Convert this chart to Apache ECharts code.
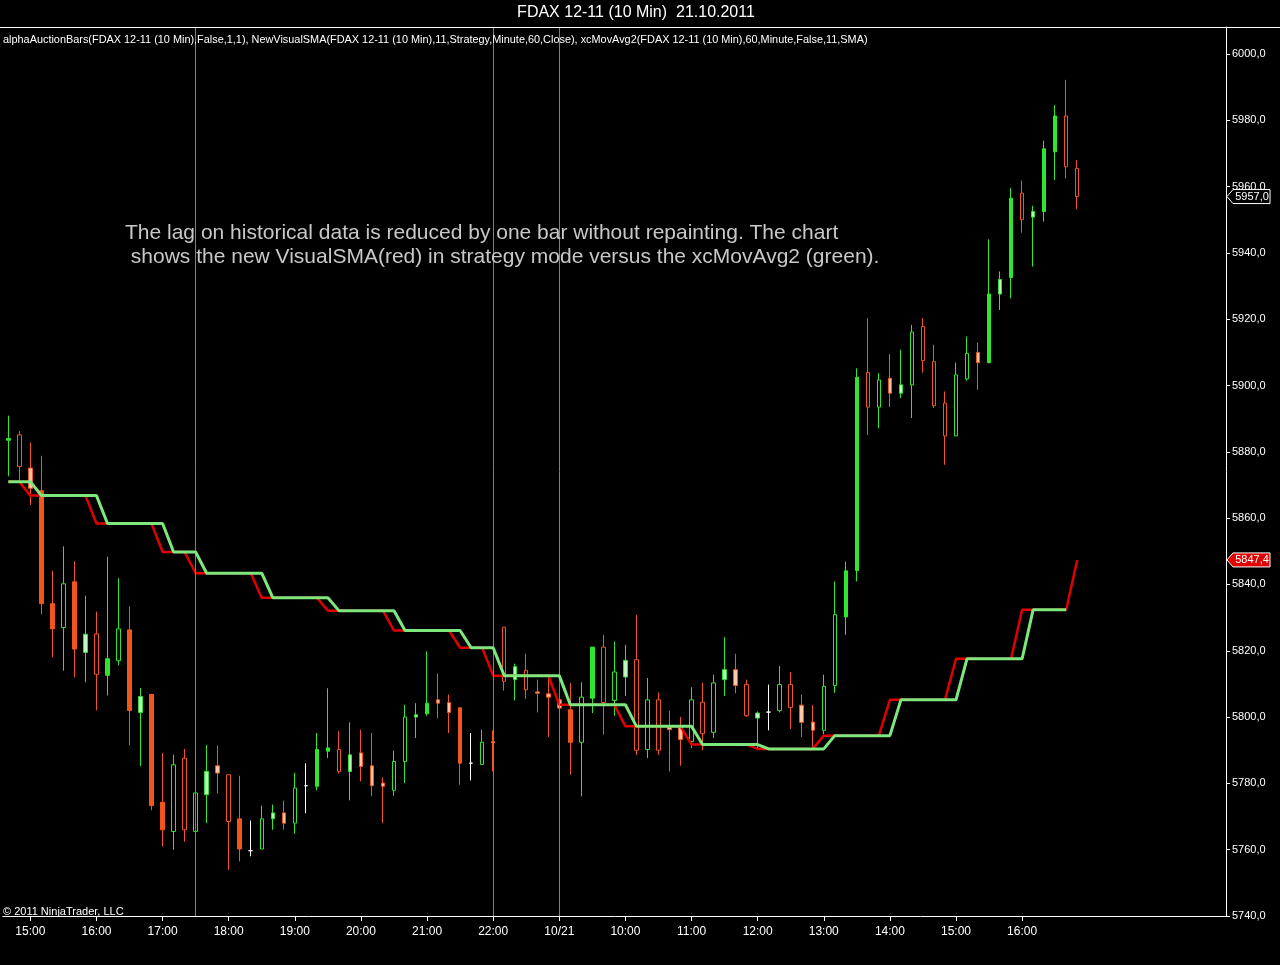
<!DOCTYPE html>
<html>
<head>
<meta charset="utf-8">
<script src="https://cdn.jsdelivr.net/npm/echarts@6/dist/echarts.min.js"></script>
<style>
html,body{margin:0;padding:0;background:#000;}
#chart{width:1280px;height:965px;}
</style>
</head>
<body>
<div id="chart"></div>
<script>
// ---- data ----
const times = [
 '14:40','14:50','15:00','15:10','15:20','15:30','15:40','15:50','16:00','16:10','16:20','16:30','16:40','16:50',
 '17:00','17:10','17:20','17:30','17:40','17:50','18:00','18:10','18:20','18:30','18:40','18:50',
 '19:00','19:10','19:20','19:30','19:40','19:50','20:00','20:10','20:20','20:30','20:40','20:50',
 '21:00','21:10','21:20','21:30','21:40','21:50','22:00',
 '08:10','08:20','08:30','08:40','08:50',
 '09:00','09:10','09:20','09:30','09:40','09:50','10:00','10:10','10:20','10:30','10:40','10:50',
 '11:00','11:10','11:20','11:30','11:40','11:50','12:00','12:10','12:20','12:30','12:40','12:50',
 '13:00','13:10','13:20','13:30','13:40','13:50','14:00','14:10','14:20','14:30','14:40','14:50',
 '15:00','15:10','15:20','15:30','15:40','15:50','16:00','16:10','16:20','16:30','16:40','16:50'
];
const openP = [
 5883.5,5885.1,5875.1,5868.3,5834.2,5827.0,5840.8,5819.5,5825.1,5812.6,5817.0,5826.3,5801.4,5806.8,5774.3,5765.5,5787.6,5765.5,5776.6,5785.3,
 5782.6,5769.3,5759.7,5760.2,5769.3,5771.1,5768.0,5779.3,5779.1,5789.7,5790.2,5783.6,5789.2,5785.3,5780.1,5777.9,5786.6,5800.0,5801.0,5805.2,
 5804.4,5802.8,5786.1,5785.7,5792.6,5827.1,5811.3,5814.1,5807.6,5807.0,5805.2,5802.2,5792.4,5805.7,5821.1,5805.0,5812.1,5817.3,5790.2,5805.2,
 5797.0,5797.0,5792.6,5804.5,5795.4,5811.3,5814.3,5809.8,5799.7,5801.5,5802.0,5809.8,5803.6,5798.5,5796.0,5809.5,5830.2,5844.2,5903.9,5893.5,
 5902.2,5897.7,5900.2,5917.8,5907.2,5894.7,5884.8,5902.0,5910.0,5906.9,5927.6,5932.6,5958.0,5950.8,5952.5,5970.5,5981.3,5965.5
];
const closeP = [
 5884.0,5875.6,5869.0,5834.2,5826.6,5840.2,5820.5,5825.0,5812.9,5817.6,5826.6,5802.0,5806.2,5773.3,5766.0,5785.6,5766.0,5777.1,5783.6,5783.1,
 5768.5,5760.2,5759.7,5769.3,5771.1,5768.0,5778.6,5779.3,5790.2,5790.7,5783.6,5788.6,5785.1,5779.3,5779.1,5786.6,5800.0,5800.7,5804.2,5804.2,
 5801.4,5786.1,5786.1,5792.4,5792.2,5810.8,5815.2,5808.2,5807.2,5806.0,5802.7,5792.4,5806.0,5821.1,5804.4,5813.6,5817.1,5790.0,5805.2,5790.0,
 5796.2,5793.2,5805.2,5795.0,5810.3,5814.3,5809.5,5800.4,5801.2,5801.5,5809.8,5802.9,5798.4,5796.0,5809.3,5830.9,5844.1,5902.5,5893.5,5901.7,
 5897.7,5900.2,5916.1,5907.5,5893.9,5884.8,5903.2,5909.7,5906.9,5927.6,5932.0,5956.5,5950.0,5952.5,5971.4,5981.3,5966.0,5957.0
];
const highP = [
 5890.9,5886.3,5882.8,5878.8,5844.1,5851.5,5847.0,5836.6,5831.8,5848.4,5841.9,5833.4,5808.7,5806.8,5789.2,5788.7,5790.4,5787.6,5791.6,5791.4,
 5782.6,5782.3,5768.8,5773.3,5773.6,5774.8,5783.2,5786.1,5795.2,5808.7,5795.7,5798.4,5796.2,5795.2,5781.8,5789.9,5803.7,5804.2,5819.8,5813.1,
 5806.8,5802.8,5795.2,5796.2,5796.0,5827.1,5816.1,5819.1,5811.3,5811.8,5806.0,5810.3,5810.5,5821.1,5824.8,5822.8,5821.8,5830.9,5811.8,5807.4,
 5802.0,5800.0,5809.0,5810.3,5812.8,5824.1,5819.1,5811.3,5801.7,5809.8,5815.4,5813.6,5806.8,5803.6,5812.8,5840.9,5846.9,5905.2,5920.3,5903.7,
 5909.5,5910.8,5918.3,5920.3,5912.3,5898.2,5906.9,5914.8,5913.0,5944.1,5934.4,5959.5,5961.8,5954.2,5973.9,5984.6,5992.2,5968.0
];
const lowP = [
 5872.6,5871.0,5864.0,5831.0,5818.0,5814.0,5812.0,5810.5,5802.0,5806.5,5815.6,5791.5,5785.2,5771.9,5761.0,5760.0,5762.4,5762.0,5768.0,5776.9,
 5753.9,5756.5,5758.0,5760.2,5766.0,5766.0,5764.8,5771.0,5777.9,5787.6,5783.0,5774.9,5780.6,5776.1,5768.0,5776.3,5780.1,5793.7,5800.4,5799.7,
 5795.2,5779.6,5780.9,5785.7,5783.6,5808.0,5805.0,5805.5,5801.4,5794.0,5800.0,5782.6,5776.1,5801.2,5794.7,5800.4,5806.4,5788.6,5787.6,5788.6,
 5783.6,5785.3,5790.7,5790.0,5793.7,5806.4,5807.2,5800.0,5790.0,5796.0,5801.4,5796.4,5794.0,5791.0,5794.7,5807.3,5824.8,5840.9,5885.1,5887.1,
 5893.5,5896.2,5890.2,5903.9,5893.2,5876.1,5884.8,5901.5,5898.7,5906.7,5922.8,5926.3,5946.1,5935.9,5949.4,5962.0,5962.5,5953.2
];
// auction bar kind reported by alphaAuctionBars: S = strong, N = normal, W = weak, D = doji
const auctionKind = [
 'S','N','W','S','S','N','S','W','N','S','N','S','W','S','S','N','N','N','W','W',
 'N','S','D','N','W','W','N','D','S','S','N','W','W','W','W','N','N','W','S','W',
 'W','S','D','N','W','N','W','N','W','W','W','S','N','S','N','N','W','N','N','N',
 'W','W','N','N','N','W','W','N','W','D','N','N','W','W','N','N','S','S','N','N',
 'W','W','N','N','N','N','N','N','W','S','W','S','N','W','S','S','N','N'
];
// NewVisualSMA (strategy mode, red) and xcMovAvg2 (green), 60 min SMA(11)
const visualSMA = [
 5871.0,5871.0,
 5866.8,5866.8,5866.8,5866.8,5866.8,5866.8,
 5858.4,5858.4,5858.4,5858.4,5858.4,5858.4,
 5849.8,5849.8,5849.8,
 5843.4,5843.4,5843.4,5843.4,5843.4,5843.4,
 5836.0,5836.0,5836.0,5836.0,5836.0,5836.0,
 5832.1,5832.1,5832.1,5832.1,5832.1,5832.1,
 5826.1,5826.1,5826.1,5826.1,5826.1,5826.1,
 5820.9,5820.9,5820.9,
 5812.5,5812.5,5812.5,5812.5,5812.5,5812.5,
 5803.7,5803.7,5803.7,5803.7,5803.7,5803.7,
 5797.2,5797.2,5797.2,5797.2,5797.2,5797.2,
 5791.7,5791.7,5791.7,5791.7,5791.7,5791.7,
 5790.4,5790.4,5790.4,5790.4,5790.4,5790.4,
 5794.4,5794.4,5794.4,5794.4,5794.4,5794.4,
 5805.2,5805.2,5805.2,5805.2,5805.2,5805.2,
 5817.6,5817.6,5817.6,5817.6,5817.6,5817.6,
 5832.4,5832.4,5832.4,5832.4,5832.4,
 5847.4
];
const xcMovAvg2 = [
 5871.0,5871.0,5871.0,
 5866.8,5866.8,5866.8,5866.8,5866.8,5866.8,
 5858.4,5858.4,5858.4,5858.4,5858.4,5858.4,
 5849.8,5849.8,5849.8,
 5843.4,5843.4,5843.4,5843.4,5843.4,5843.4,
 5836.0,5836.0,5836.0,5836.0,5836.0,5836.0,
 5832.1,5832.1,5832.1,5832.1,5832.1,5832.1,
 5826.1,5826.1,5826.1,5826.1,5826.1,5826.1,
 5820.9,5820.9,5820.9,
 5812.5,5812.5,5812.5,5812.5,5812.5,5812.5,
 5803.7,5803.7,5803.7,5803.7,5803.7,5803.7,
 5797.2,5797.2,5797.2,5797.2,5797.2,5797.2,
 5791.7,5791.7,5791.7,5791.7,5791.7,5791.7,
 5790.4,5790.4,5790.4,5790.4,5790.4,5790.4,
 5794.4,5794.4,5794.4,5794.4,5794.4,5794.4,
 5805.2,5805.2,5805.2,5805.2,5805.2,5805.2,
 5817.6,5817.6,5817.6,5817.6,5817.6,5817.6,
 5832.4,5832.4,5832.4,5832.4
];
const sessionLines = [17, 44, 50];
const dayLabel = { '09:00': '10/21' };
const titleText = 'FDAX 12-11 (10 Min)  21.10.2011';
const legendText = 'alphaAuctionBars(FDAX 12-11 (10 Min),False,1,1), NewVisualSMA(FDAX 12-11 (10 Min),11,Strategy,Minute,60,Close), xcMovAvg2(FDAX 12-11 (10 Min),60,Minute,False,11,SMA)';
const noteLines = [
 'The lag on historical data is reduced by one bar without repainting. The chart',
 ' shows the new VisualSMA(red) in strategy mode versus the xcMovAvg2 (green).'
];
const copyrightText = '\u00A9 2011 NinjaTrader, LLC';

// ---- styling ----
const FONT = 'Liberation Sans, Arial, sans-serif';
const UP = '#2ee62e', DOWN = '#f2551f';
const UP_LIGHT = '#bff7bf', DOWN_LIGHT = '#ffc6a8';

function candleStyle(i) {
  const up = closeP[i] > openP[i];
  const k = auctionKind[i];
  let border, fill;
  if (k === 'D') { border = '#ffffff'; fill = '#ffffff'; }
  else {
    border = up ? UP : DOWN;
    if (k === 'S') fill = border;
    else if (k === 'W') fill = up ? UP_LIGHT : DOWN_LIGHT;
    else fill = '#000000';
  }
  return { color: fill, color0: fill, borderColor: border, borderColor0: border, borderColorDoji: border, borderWidth: 1 };
}

const candleData = times.map((t, i) => ({
  value: [openP[i], closeP[i], lowP[i], highP[i]],
  itemStyle: candleStyle(i)
}));

const showHour = (idx, val) => typeof val === 'string' && val.length > 0 && val.slice(3) === '00';

const chart = echarts.init(document.getElementById('chart'), null, { renderer: 'canvas' });
chart.setOption({
  backgroundColor: '#000000',
  animation: false,
  grid: { left: 2.8, right: 54, top: 27, bottom: 49 },
  xAxis: {
    type: 'category', data: times, max: 110, boundaryGap: true,
    axisLine: { show: true, lineStyle: { color: '#ffffff', width: 1 } },
    axisTick: { show: true, interval: showHour, alignWithLabel: true, length: 5, lineStyle: { color: '#ffffff' } },
    axisLabel: {
      interval: showHour, color: '#ffffff', fontSize: 12, fontFamily: FONT, margin: 10,
      formatter: v => (dayLabel[v] || v || '')
    },
    splitLine: { show: false }
  },
  yAxis: {
    type: 'value', position: 'right', min: 5740, max: 6008.14, interval: 20, scale: true,
    axisLine: { show: true, lineStyle: { color: '#ffffff', width: 1 } },
    axisTick: { show: true, length: 4, lineStyle: { color: '#ffffff' } },
    axisLabel: {
      color: '#ffffff', fontSize: 11, fontFamily: FONT, margin: 6, showMaxLabel: false,
      formatter: v => (Math.abs(v % 20) < 0.001 ? v.toFixed(1).replace('.', ',') : '')
    },
    splitLine: { show: false }
  },
  series: [
    {
      type: 'candlestick', name: 'alphaAuctionBars', data: candleData, barWidth: 4, z: 2,
      markLine: {
        silent: true, symbol: 'none', label: { show: false },
        lineStyle: { color: '#808080', width: 1, type: 'solid' },
        data: sessionLines.map(i => ({ xAxis: i }))
      }
    },
    {
      type: 'line', name: 'NewVisualSMA', data: visualSMA, symbol: 'none', z: 4,
      lineStyle: { color: '#e00000', width: 2.5 }
    },
    {
      type: 'line', name: 'xcMovAvg2', data: xcMovAvg2, symbol: 'none', z: 5,
      lineStyle: { color: '#7ee87e', width: 3 }
    }
  ]
});

function tag(value, fill, stroke) {
  const y = chart.convertToPixel({ yAxisIndex: 0 }, value);
  return [
    {
      type: 'polygon', z: 100,
      shape: { points: [[1227, y], [1233, y - 7], [1270, y - 7], [1270, y + 7], [1233, y + 7]] },
      style: { fill: fill, stroke: stroke, lineWidth: 1 }
    },
    {
      type: 'text', z: 101, x: 1252, y: y,
      style: { text: value.toFixed(1).replace('.', ','), fill: '#ffffff', font: '11px ' + FONT, align: 'center', verticalAlign: 'middle' }
    }
  ];
}

const lastClose = closeP[closeP.length - 1];
const lastSMA = visualSMA[visualSMA.length - 1];

chart.setOption({
  graphic: [
    { type: 'text', x: 636, y: 13, style: { text: titleText, fill: '#ffffff', font: '16px ' + FONT, align: 'center', verticalAlign: 'middle' }, z: 50 },
    { type: 'line', shape: { x1: 0, y1: 27.5, x2: 1280, y2: 27.5 }, style: { stroke: '#ffffff', lineWidth: 1 }, z: 50 },
    { type: 'text', x: 3, y: 40, style: { text: legendText, fill: '#ffffff', font: '10.9px ' + FONT, verticalAlign: 'middle' }, z: 50 },
    { type: 'text', x: 125, y: 233, style: { text: noteLines[0], fill: '#c8c8c8', font: '21px ' + FONT, verticalAlign: 'middle' }, z: 50 },
    { type: 'text', x: 125, y: 257, style: { text: noteLines[1], fill: '#c8c8c8', font: '21px ' + FONT, verticalAlign: 'middle' }, z: 50 },
    { type: 'text', x: 3, y: 912, style: { text: copyrightText, fill: '#ffffff', font: '11px ' + FONT, verticalAlign: 'middle' }, z: 50 }
  ].concat(tag(lastClose, '#000000', '#ffffff'), tag(lastSMA, '#e00000', '#ffffff'))
});
</script>
</body>
</html>
